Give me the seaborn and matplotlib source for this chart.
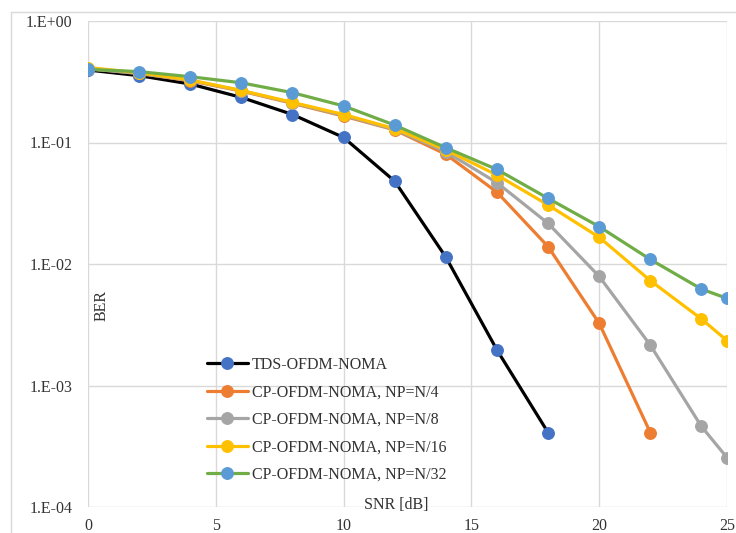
import numpy as np
import pandas as pd
import seaborn as sns
import matplotlib.pyplot as plt
from matplotlib.lines import Line2D

# SNR points (dB)
snr_tds = [0, 2, 4, 6, 8, 10, 12, 14, 16, 18]
snr_np4 = [0, 2, 4, 6, 8, 10, 12, 14, 16, 18, 20, 22]
snr_long = [0, 2, 4, 6, 8, 10, 12, 14, 16, 18, 20, 22, 24, 25]

# BER values
ber_tds = [0.395, 0.355, 0.303, 0.235, 0.170, 0.110, 0.048, 0.0114, 0.00196, 0.00041]
ber_np4 = [0.405, 0.37, 0.322, 0.265, 0.21, 0.165, 0.127, 0.080, 0.039, 0.0139, 0.00325, 0.00041]
ber_np8 = [0.405, 0.37, 0.325, 0.267, 0.212, 0.167, 0.128, 0.084, 0.0467, 0.0216, 0.0079, 0.00215, 0.00046, 0.000255]
ber_np16 = [0.414, 0.375, 0.327, 0.268, 0.214, 0.170, 0.130, 0.087, 0.054, 0.0306, 0.0166, 0.0073, 0.00353, 0.00234]
ber_np32 = [0.40, 0.383, 0.348, 0.31, 0.257, 0.20, 0.139, 0.0906, 0.060, 0.0347, 0.0203, 0.0109, 0.00622, 0.00521]

names = ['TDS-OFDM-NOMA', 'CP-OFDM-NOMA, NP=N/4', 'CP-OFDM-NOMA, NP=N/8',
         'CP-OFDM-NOMA, NP=N/16', 'CP-OFDM-NOMA, NP=N/32']
line_colors = ['#000000', '#ED7D31', '#A5A5A5', '#FFC000', '#70AD47']
marker_colors = ['#4472C4', '#ED7D31', '#A5A5A5', '#FFC000', '#5B9BD5']

ytick_vals = [1e-4, 1e-3, 1e-2, 1e-1, 1e0]
ytick_labels = ['1.E-04', '1.E-03', '1.E-02', '1.E-01', '1.E+00']

sns.set_style('white')
plt.rcParams['font.family'] = ['Liberation Serif', 'DejaVu Serif']
fs = 11.5

fig = plt.figure(figsize=(7.36, 5.33), dpi=100)
ax = fig.add_axes([88/736, 1-507/533, 639/736, 486/533])

series = [(snr_tds, ber_tds), (snr_np4, ber_np4), (snr_long, ber_np8),
          (snr_long, ber_np16), (snr_long, ber_np32)]
for (xs, ys), name, lc, mc in zip(series, names, line_colors, marker_colors):
    d = pd.DataFrame({'snr': xs, 'ber': ys})
    sns.lineplot(data=d, x='snr', y='ber', ax=ax, color=lc, lw=2.3,
                 marker='o', markersize=8.5, markerfacecolor=mc,
                 markeredgecolor=mc, label=name)

ax.set_yscale('log')
ax.set_ylim(1e-4, 1)
ax.set_xlim(0, 25)
ax.set_yticks(ytick_vals, ytick_labels)
ax.minorticks_off()
ax.set_xticks([0, 5, 10, 15, 20, 25])
ax.grid(True, color='#D9D9D9', lw=1)
for s in ax.spines.values():
    s.set_visible(False)
ax.tick_params(axis='y', length=0, pad=11, labelsize=fs, colors='#333333')
ax.tick_params(axis='x', length=0, pad=8, labelsize=fs, colors='#333333')
ax.set_xlabel('')
ax.set_ylabel('')

ax.text(0.022, 0.414, 'BER', rotation=90, transform=ax.transAxes,
        ha='center', va='center', fontsize=fs, color='#333333')
ax.text(0.482, 0.004, 'SNR [dB]', transform=ax.transAxes,
        ha='center', va='center', fontsize=fs, color='#333333')

ax.legend(loc='upper left', bbox_to_anchor=(207/736, 1-357/533),
          bbox_transform=fig.transFigure, frameon=False, fontsize=fs,
          handlelength=2.55, handletextpad=0.25, labelspacing=0.72,
          borderpad=0, borderaxespad=0, labelcolor='#333333')

# outer chart border
fig.add_artist(Line2D([11/736, 1], [1-12/533, 1-12/533], color='#D9D9D9', lw=1))
fig.add_artist(Line2D([11/736, 11/736], [0, 1-12/533], color='#D9D9D9', lw=1))

fig.savefig('out.png', dpi=100)
